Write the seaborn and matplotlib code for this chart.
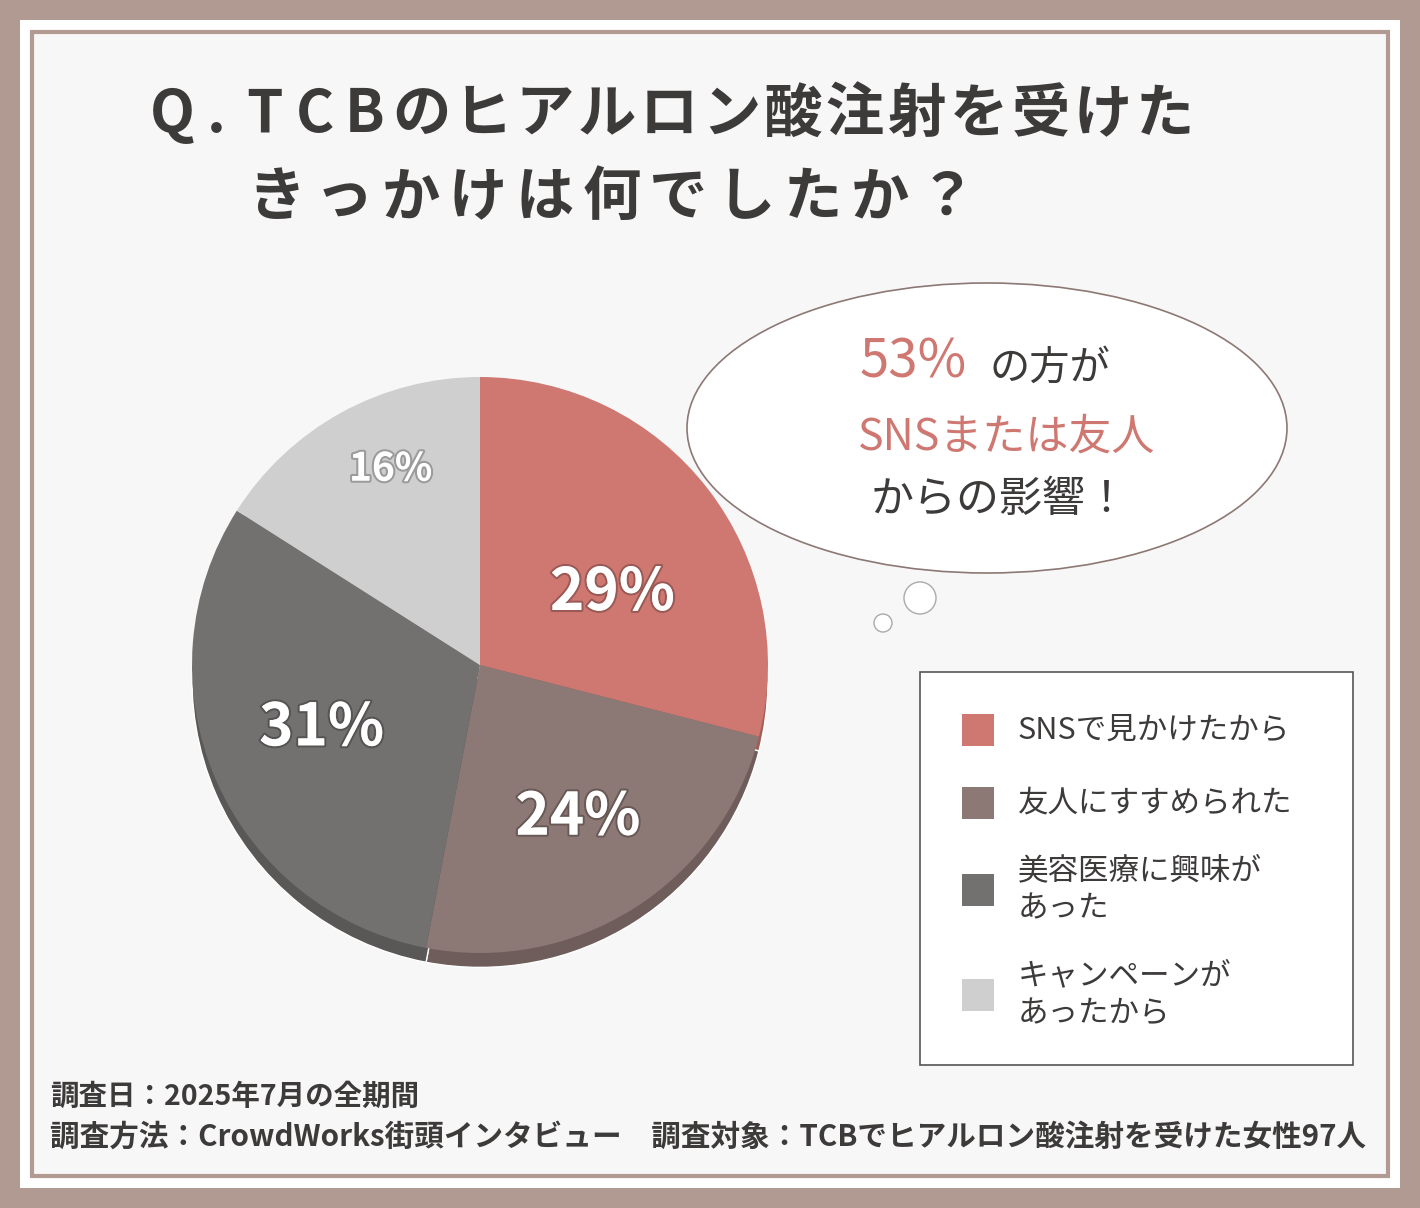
import matplotlib
matplotlib.use("Agg")
import matplotlib.pyplot as plt
import matplotlib.patches as mp
import matplotlib.patheffects as pe
import seaborn as sns

sns.set_theme(style="white", font="Noto Sans CJK JP")

labels = ["SNSで見かけたから", "友人にすすめられた", "美容医療に興味が\nあった", "キャンペーンが\nあったから"]
values = [29, 24, 31, 16]
pct_labels = ["29%", "24%", "31%", "16%"]
colors = ["#cf7872", "#8c7874", "#737070", "#d0cfcf"]
shadow_colors = ["#a05e59", "#6e5d5a", "#5a5757", "#a9a8a8"]

W, H = 1420, 1208
fig = plt.figure(figsize=(W/100, H/100), dpi=100)
fig.patch.set_facecolor("#b09a92")

def fx(x): return x / W
def fy(y): return 1 - y / H

# frame (behind axes)
fig.add_artist(mp.Rectangle((fx(20), fy(1188)), fx(1380), 1168/H, transform=fig.transFigure, fc="white", ec="none", zorder=-3))
fig.add_artist(mp.Rectangle((fx(32), fy(1176)), fx(1356), 1144/H, transform=fig.transFigure, fc="#f8f7f7", ec="#b09a92", lw=3, zorder=-2))

def spaced(text, x, y, full, half, **kw):
    for ch in text:
        w = half if ord(ch) < 128 else full
        fig.text(fx(x + w / 2), fy(y), ch, ha="center", va="center", **kw)
        x += w

tkw = dict(fontsize=42, color="#3d3a3a", fontweight="bold")
spaced("Q.", 150, 115, 62, 44, **tkw)
spaced("TCBのヒアルロン酸注射を受けた", 240, 115, 62, 50, **tkw)
spaced("きっかけは何でしたか？", 243, 198, 67, 50, **tkw)

# pie
ax = fig.add_axes([fx(120), fy(1025), 720/W, 720/H])
ax.set_xlim(-1.03, 1.03); ax.set_ylim(-1.03, 1.03); ax.set_aspect("equal"); ax.axis("off")
ax.pie(values, colors=shadow_colors, startangle=90, counterclock=False, radius=1, center=(0, -0.05))
wedges, _ = ax.pie(values, colors=colors, startangle=90, counterclock=False, radius=1,
                   wedgeprops=dict(linewidth=0))
lab_pos = [(0.46, 0.25), (0.34, -0.53), (-0.55, -0.22), (-0.31, 0.68)]
sizes = [42, 42, 42, 28]
for (x, y), t, s in zip(lab_pos, pct_labels, sizes):
    ax.text(x, y, t, fontsize=s, color="white", ha="center", va="center", fontweight="bold",
            path_effects=[pe.withStroke(linewidth=3, foreground="#00000040")])

# bubble
fig.add_artist(mp.Ellipse((fx(987), fy(428)), 600/W, 290/H, transform=fig.transFigure, fc="white", ec="#8c7874", lw=1.2, zorder=2))
fig.add_artist(mp.Ellipse((fx(920), fy(598)), 32/W, 32/H, transform=fig.transFigure, fc="white", ec="#aaa", lw=1, zorder=2))
fig.add_artist(mp.Ellipse((fx(883), fy(623)), 18/W, 18/H, transform=fig.transFigure, fc="white", ec="#aaa", lw=1, zorder=2))
fig.text(fx(860), fy(362), "53%", fontsize=38, color="#cf7872", va="center", zorder=3)
fig.text(fx(990), fy(368), "の方が", fontsize=29, color="#3d3a3a", va="center", zorder=3)
fig.text(fx(1007), fy(438), "SNSまたは友人", fontsize=31, color="#cf7872", va="center", ha="center", zorder=3)
fig.text(fx(1000), fy(500), "からの影響！", fontsize=31, color="#3d3a3a", va="center", ha="center", zorder=3)

# legend
fig.add_artist(mp.Rectangle((fx(920), fy(1065)), 433/W, 393/H, transform=fig.transFigure, fc="white", ec="#555", lw=1.2, zorder=2))
ly = [730, 803, 890, 995]
for c, l, y in zip(colors, labels, ly):
    fig.add_artist(mp.Rectangle((fx(962), fy(y + 16)), 32/W, 32/H, transform=fig.transFigure, fc=c, ec="none", zorder=3))
    fig.text(fx(1018), fy(y), l, fontsize=22, color="#3d3a3a", va="center", linespacing=1.3, zorder=3)

fig.text(fx(50), fy(1097), "調査日：2025年7月の全期間", fontsize=20.5, color="#3d3a3a", va="center", fontweight="bold")
fig.text(fx(50), fy(1137), "調査方法：CrowdWorks街頭インタビュー　調査対象：TCBでヒアルロン酸注射を受けた女性97人", fontsize=21.3, color="#3d3a3a", va="center", fontweight="bold")

fig.savefig("out.png", dpi=100)
